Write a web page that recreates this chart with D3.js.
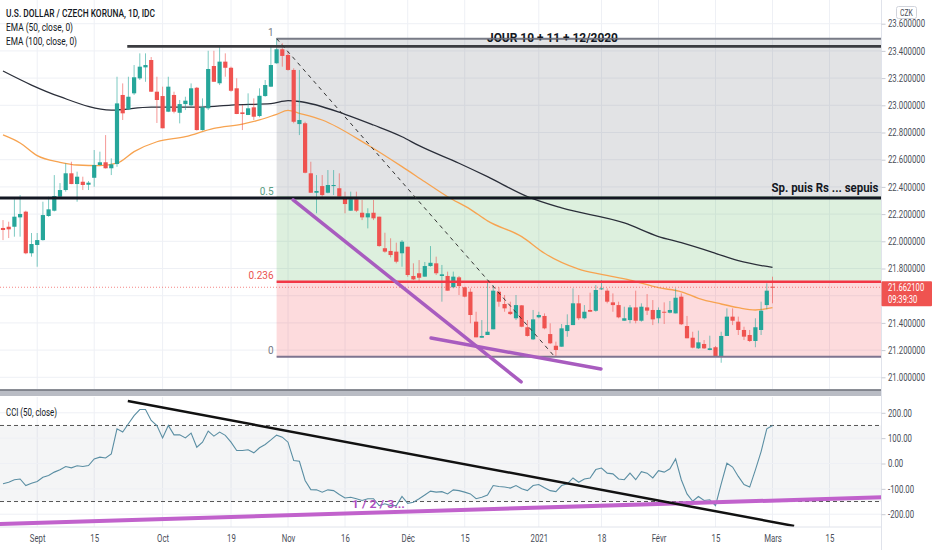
<!DOCTYPE html>
<html>
<head>
<meta charset="utf-8">
<script src="https://cdn.jsdelivr.net/npm/d3@7"></script>
<style>
  body { margin: 0; background: #fff; }
  svg { display: block; font-family: Roboto, "Liberation Sans", sans-serif; }
</style>
</head>
<body>
<div id="chart"></div>
<script>
// ---- data (daily bars from 2020-08-24, weekdays only) ----
const startDate = '2020-08-24';

const opens = [22.098,22.107,22.107,22.176,22.218,21.912,21.973,22.009,22.186,22.225,
  22.328,22.377,22.500,22.421,22.438,22.416,22.467,22.561,22.581,22.537,
  22.568,23.076,22.970,23.088,23.198,23.279,23.333,23.100,23.068,22.953,
  23.076,22.945,23.009,23.000,23.129,22.818,22.978,23.289,23.162,23.321,
  23.276,23.125,22.948,22.929,22.985,22.921,23.068,23.137,23.309,23.412,
  23.370,23.260,22.862,22.868,22.500,22.357,22.406,22.357,22.406,22.390,
  22.316,22.225,22.309,22.210,22.176,22.210,22.181,21.949,21.929,21.924,
  21.912,21.960,21.745,21.765,21.740,21.818,21.838,21.745,21.745,21.662,
  21.735,21.662,21.629,21.409,21.291,21.311,21.353,21.629,21.539,21.482,
  21.434,21.529,21.368,21.279,21.441,21.451,21.318,21.232,21.225,21.340,
  21.384,21.544,21.434,21.495,21.489,21.647,21.637,21.551,21.531,21.416,
  21.421,21.514,21.416,21.514,21.495,21.434,21.482,21.475,21.470,21.593,
  21.377,21.291,21.213,21.245,21.201,21.221,21.151,21.304,21.446,21.409,
  21.348,21.311,21.267,21.348,21.531,21.666];

const highs = [22.156,22.144,22.309,22.340,22.225,22.061,22.061,22.291,22.328,22.487,
  22.428,22.573,22.585,22.512,22.475,22.443,22.671,22.659,22.781,22.610,
  23.210,23.161,23.210,23.296,23.382,23.382,23.355,23.210,23.137,23.210,
  23.100,23.039,23.063,23.161,23.135,23.051,23.401,23.401,23.431,23.382,
  23.284,23.199,23.002,23.088,23.051,23.125,23.186,23.443,23.490,23.456,
  23.394,23.272,23.260,22.879,22.585,22.487,22.487,22.524,22.524,22.500,
  22.365,22.365,22.365,22.304,22.243,22.304,22.181,22.063,22.022,21.990,
  22.009,21.960,21.838,21.862,21.848,21.965,21.887,21.826,21.777,21.777,
  21.745,21.666,21.654,21.482,21.421,21.703,21.678,21.662,21.605,21.556,
  21.605,21.531,21.421,21.495,21.482,21.470,21.397,21.262,21.392,21.463,
  21.654,21.605,21.531,21.622,21.678,21.715,21.654,21.617,21.556,21.519,
  21.531,21.637,21.544,21.612,21.568,21.514,21.551,21.561,21.654,21.617,
  21.451,21.335,21.343,21.274,21.306,21.230,21.335,21.507,21.507,21.446,
  21.372,21.348,21.434,21.556,21.691,21.740];

const lows = [22.009,22.024,22.034,22.034,21.905,21.887,21.813,22.005,22.180,22.220,
  22.325,22.365,22.420,22.291,22.377,22.377,22.401,22.558,22.535,22.487,
  22.548,22.892,22.965,23.076,23.186,23.173,23.098,22.870,22.831,22.950,
  22.941,22.867,22.965,22.990,22.814,22.814,22.965,23.173,23.149,23.210,
  23.100,22.935,22.818,22.928,22.892,22.912,23.063,23.134,23.306,23.284,
  23.255,22.868,22.781,22.500,22.357,22.206,22.328,22.353,22.340,22.328,
  22.206,22.225,22.215,22.156,22.095,22.156,21.960,21.916,21.882,21.838,
  21.813,21.739,21.715,21.703,21.740,21.813,21.752,21.556,21.637,21.654,
  21.605,21.588,21.397,21.294,21.291,21.311,21.353,21.519,21.482,21.458,
  21.421,21.368,21.299,21.274,21.434,21.353,21.245,21.151,21.225,21.298,
  21.384,21.421,21.426,21.482,21.482,21.642,21.544,21.482,21.434,21.416,
  21.397,21.397,21.409,21.458,21.384,21.397,21.392,21.470,21.470,21.384,
  21.287,21.213,21.208,21.208,21.199,21.151,21.107,21.304,21.384,21.311,
  21.274,21.260,21.221,21.311,21.500,21.544];

const closes = [22.083,22.088,22.181,22.201,21.912,21.980,22.009,22.193,22.235,22.333,
  22.377,22.500,22.421,22.475,22.414,22.431,22.561,22.581,22.537,22.566,
  23.014,22.941,23.063,23.206,23.284,23.296,23.100,23.039,22.831,23.137,
  22.953,23.009,23.034,23.125,22.818,22.985,23.267,23.173,23.321,23.276,
  23.107,22.936,22.936,22.978,22.916,23.070,23.149,23.296,23.412,23.363,
  23.260,22.879,22.892,22.504,22.357,22.370,22.340,22.414,22.414,22.328,
  22.274,22.309,22.225,22.176,22.206,22.169,21.965,21.924,21.899,21.850,
  21.997,21.752,21.720,21.732,21.818,21.842,21.765,21.757,21.637,21.740,
  21.671,21.593,21.458,21.294,21.304,21.335,21.637,21.556,21.507,21.465,
  21.531,21.372,21.304,21.426,21.458,21.360,21.250,21.201,21.360,21.384,
  21.544,21.434,21.482,21.482,21.642,21.654,21.556,21.531,21.441,21.434,
  21.514,21.416,21.519,21.490,21.426,21.495,21.475,21.495,21.585,21.390,
  21.287,21.218,21.257,21.213,21.213,21.156,21.304,21.446,21.416,21.348,
  21.299,21.267,21.368,21.490,21.637,21.662];

const ema50Idx = [0,3,6,10,13,17,20,23,27,32,37,42,45,48,50,52,56,64,70,74,78,82,85,91,95,101,105,110,115,119,122,126,129,132,135];
const ema50Val = [22.782,22.723,22.63,22.581,22.561,22.556,22.574,22.659,22.732,22.769,22.831,22.862,22.892,22.934,22.962,22.941,22.892,22.708,22.549,22.438,22.328,22.235,22.150,22.034,21.912,21.796,21.757,21.715,21.659,21.629,21.581,21.539,21.512,21.495,21.512];

const ema100Idx = [0,5,10,19,26,35,40,47,50,52,60,65,70,73,80,85,92,98,109,115,119,125,129,135];
const ema100Val = [23.252,23.149,23.063,22.965,22.987,22.987,23.002,23.012,23.034,23.028,22.934,22.855,22.769,22.703,22.574,22.475,22.328,22.245,22.135,22.035,21.990,21.912,21.857,21.808];

const cciVals = [-80,-74,-64,-61,-87,-78,-71,-54,-47,-34,
  -25,-12,-17,-9,-12,-8,18,25,22,38,
  137,124,157,189,213,213,170,150,101,150,
  113,113,101,120,64,84,128,108,124,111,
  84,51,51,54,42,62,75,93,112,104,
  84,12,9,-67,-103,-104,-113,-104,-107,-122,
  -136,-133,-139,-146,-139,-139,-166,-159,-166,-166,
  -130,-157,-153,-139,-124,-109,-113,-111,-120,-104,
  -107,-113,-120,-139,-133,-124,-87,-91,-93,-97,
  -87,-100,-107,-87,-83,-96,-107,-111,-87,-80,
  -57,-74,-61,-57,-24,-18,-38,-41,-61,-64,
  -38,-64,-32,-38,-57,-28,-34,-21,18,-64,
  -120,-149,-130,-146,-143,-166,-80,1,-14,-51,
  -83,-93,-25,47,137,150];

const lastPrice = 21.6621;
const countdown = '09:39:30';

const priceTicks = [21.0,21.2,21.4,21.8,22.0,22.2,22.4,22.6,22.8,23.0,23.2,23.4,23.6];
const priceGrid = [21.0,21.2,21.4,21.6,21.8,22.0,22.2,22.4,22.6,22.8,23.0,23.2,23.4,23.6];
const cciTicks = [200,100,0,-100,-200];

const tickDates = ['2020-09-01','2020-09-15','2020-10-01','2020-10-19','2020-11-02','2020-11-16','2020-12-01',
  '2020-12-15','2021-01-01','2021-01-18','2021-02-01','2021-02-15','2021-03-01','2021-03-15'];
const tickLabels = ['Sept','15','Oct','19','Nov','16','Déc','15','2021','18','Févr','15','Mars','15'];

// drawings: [bar index, price] pairs
const fibHigh = [48, 23.49];
const fibLow = [96.8, 21.151];
const fibLevels = [1, 0.5, 0.236, 0];
const resistance = { from: 21.8, price: 23.434 };
const support = { from: -1, price: 22.318 };
const purpleLines = [[[50.9, 22.304], [90.9, 20.966]], [[75.1, 21.289], [104.9, 21.061]]];
const cciBlack = [[21.9, 246.5], [138.8, -246.5]];
const cciPurple = [[-0.6, -238.7], [154.1, -133.3]];

// ---- layout ----
const W = 881.5;
const mainBottom = 389;
const cciTop = 397, cciBottom = 527;

function weekdayIndex(dateStr) {
  const d0 = new Date(startDate + 'T00:00:00Z');
  const d1 = new Date(dateStr + 'T00:00:00Z');
  let n = 0;
  for (let d = new Date(d0); d < d1; d.setUTCDate(d.getUTCDate() + 1)) {
    const wd = d.getUTCDay();
    if (wd !== 0 && wd !== 6) n++;
  }
  return n;
}
const tickIdx = tickDates.map(weekdayIndex);

const x = d3.scaleLinear().domain([0, 135]).range([3, 772.5]);
const y = d3.scaleLinear().domain([21, 23.6]).range([377.3, 23.7]);
const yC = d3.scaleLinear().domain([-200, 200]).range([514.2, 412.8]);

const svg = d3.select('#chart').append('svg').attr('width', 932).attr('height', 550);
svg.append('rect').attr('width', 932).attr('height', 550).attr('fill', '#fff');

const defs = svg.append('defs');
defs.append('clipPath').attr('id', 'clipMain').append('rect')
  .attr('x', 0).attr('y', 0).attr('width', W).attr('height', mainBottom);
defs.append('clipPath').attr('id', 'clipCci').append('rect')
  .attr('x', 0).attr('y', cciTop).attr('width', W).attr('height', cciBottom - cciTop);

function fitWidth(sel, w) {
  sel.attr('textLength', w).attr('lengthAdjust', 'spacingAndGlyphs');
}
// narrow the axis labels with a horizontal scale so their boxes stay inside the picture
function condense(sel, k) {
  sel.each(function () {
    const t = d3.select(this);
    const x0 = +t.attr('x') || 0;
    t.attr('x', x0 / k).attr('transform', `scale(${k},1)`);
  });
}

// ---- grid ----
const grid = svg.append('g');
grid.selectAll('.vg1').data(tickIdx).join('line')
  .attr('x1', d => x(d)).attr('x2', d => x(d)).attr('y1', 0).attr('y2', mainBottom)
  .attr('stroke', '#eef0f5');
grid.selectAll('.vg2').data(tickIdx).join('line')
  .attr('x1', d => x(d)).attr('x2', d => x(d)).attr('y1', cciTop).attr('y2', cciBottom)
  .attr('stroke', '#eef0f5');
grid.selectAll('.hg').data(priceGrid).join('line')
  .attr('x1', 0).attr('x2', W).attr('y1', d => y(d)).attr('y2', d => y(d))
  .attr('stroke', '#eef0f5');

// ---- main pane ----
const main = svg.append('g').attr('clip-path', 'url(#clipMain)');

const fibPrice = lv => fibLow[1] + lv * (fibHigh[1] - fibLow[1]);
const fibX = x(fibHigh[0]);
const fibFills = [
  [1, 0.5, 'rgba(120,123,134,0.21)'],
  [0.5, 0.236, 'rgba(76,175,80,0.19)'],
  [0.236, 0, 'rgba(242,54,69,0.18)']
];
main.selectAll('.fibfill').data(fibFills).join('rect')
  .attr('x', fibX).attr('width', W - fibX)
  .attr('y', d => y(fibPrice(d[0])))
  .attr('height', d => y(fibPrice(d[1])) - y(fibPrice(d[0])))
  .attr('fill', d => d[2]);

// EMAs
const line = d3.line().x(d => x(d[0])).y(d => y(d[1])).curve(d3.curveMonotoneX);
main.append('path').datum(ema100Idx.map((d, i) => [d, ema100Val[i]]))
  .attr('d', line).attr('fill', 'none').attr('stroke', '#2a2e39').attr('stroke-width', 1.3);
main.append('path').datum(ema50Idx.map((d, i) => [d, ema50Val[i]]))
  .attr('d', line).attr('fill', 'none').attr('stroke', '#f7a350').attr('stroke-width', 1.3);

// candles
const up = '#26a69a', down = '#ef5350';
const bars = closes.map((c, i) => ({ i, o: opens[i], h: highs[i], l: lows[i], c }));
const cg = main.append('g');
cg.selectAll('.wick').data(bars).join('line')
  .attr('x1', d => x(d.i)).attr('x2', d => x(d.i))
  .attr('y1', d => y(d.h)).attr('y2', d => y(d.l))
  .attr('stroke', d => d.c >= d.o ? up : down).attr('stroke-opacity', 0.6).attr('stroke-width', 1);
cg.selectAll('.body').data(bars).join('rect')
  .attr('x', d => x(d.i) - 2.1).attr('width', 4.2)
  .attr('y', d => y(Math.max(d.o, d.c)))
  .attr('height', d => Math.max(1, Math.abs(y(d.o) - y(d.c))))
  .attr('fill', d => d.c >= d.o ? up : down);

// fib level lines
const fibColors = { 1: '#787b86', 0.5: '#4caf50', 0.236: '#f23645', 0: '#7e7590' };
main.selectAll('.fibline').data(fibLevels).join('line')
  .attr('x1', fibX).attr('x2', W)
  .attr('y1', d => y(fibPrice(d))).attr('y2', d => y(fibPrice(d)))
  .attr('stroke', d => fibColors[d]).attr('stroke-width', d => d === 0.236 ? 2.6 : 2);

// horizontal drawings
main.append('line').attr('x1', x(resistance.from)).attr('x2', W)
  .attr('y1', y(resistance.price)).attr('y2', y(resistance.price))
  .attr('stroke', '#3b3c40').attr('stroke-width', 2.8);
main.append('line').attr('x1', x(support.from)).attr('x2', W)
  .attr('y1', y(support.price)).attr('y2', y(support.price))
  .attr('stroke', '#131722').attr('stroke-width', 3);

// current price dotted line
main.append('line').attr('x1', 0).attr('x2', W)
  .attr('y1', y(lastPrice)).attr('y2', y(lastPrice))
  .attr('stroke', '#ef5350').attr('stroke-opacity', 0.7).attr('stroke-dasharray', '1,2');

// trend lines
main.selectAll('.pl').data(purpleLines).join('line')
  .attr('x1', d => x(d[0][0])).attr('y1', d => y(d[0][1]))
  .attr('x2', d => x(d[1][0])).attr('y2', d => y(d[1][1]))
  .attr('stroke', '#a85cbf').attr('stroke-width', 3.5).attr('stroke-linecap', 'round');
main.append('line')
  .attr('x1', x(fibHigh[0])).attr('y1', y(fibHigh[1]))
  .attr('x2', x(fibLow[0])).attr('y2', y(fibLow[1]))
  .attr('stroke', '#333').attr('stroke-width', 1).attr('stroke-dasharray', '4,4');

// fib labels
const fibLabels = { 1: '1', 0.5: '0.5', 0.236: '0.236', 0: '0' };
const fibLabelColors = { 1: '#787b86', 0.5: '#5b9e83', 0.236: '#e9534f', 0: '#787b86' };
svg.append('g').selectAll('text').data(fibLevels).join('text')
  .attr('x', fibX - 3).attr('y', d => y(fibPrice(d)) - 3)
  .attr('text-anchor', 'end').attr('font-size', 10)
  .attr('fill', d => fibLabelColors[d]).text(d => fibLabels[d]);

// annotation texts
const t1 = svg.append('text').attr('x', x(96.4)).attr('y', 41.5)
  .attr('text-anchor', 'middle').attr('font-size', 12).attr('font-weight', 700)
  .attr('fill', '#131722').text('JOUR 10 + 11 + 12/2020');
fitWidth(t1, 131);
// the fib 1 line runs over the text
svg.append('line').attr('x1', 487).attr('x2', 619)
  .attr('y1', y(fibPrice(1))).attr('y2', y(fibPrice(1)))
  .attr('stroke', '#787b86').attr('stroke-width', 1.5).attr('stroke-opacity', 0.8);
const t2 = svg.append('text').attr('x', 878.5).attr('y', 192)
  .attr('text-anchor', 'end').attr('font-size', 12).attr('font-weight', 700)
  .attr('fill', '#131722').text('Sp. puis Rs ... sepuis');
fitWidth(t2, 107);

// legend
const lg = svg.append('g').attr('fill', '#131722');
fitWidth(lg.append('text').attr('x', 6).attr('y', 17.3).attr('font-size', 10.5).attr('font-weight', 500)
  .text('U.S. DOLLAR / CZECH KORUNA, 1D, IDC'), 149);
fitWidth(lg.append('text').attr('x', 6).attr('y', 31.3).attr('font-size', 10.5)
  .text('EMA (50, close, 0)'), 67);
fitWidth(lg.append('text').attr('x', 6).attr('y', 45.3).attr('font-size', 10.5)
  .text('EMA (100, close, 0)'), 71);

// pane separator
svg.append('rect').attr('x', 0).attr('y', mainBottom + 0.5).attr('width', W).attr('height', 6.5)
  .attr('fill', '#b9bcc4');
svg.append('line').attr('x1', 0).attr('x2', W).attr('y1', mainBottom + 1).attr('y2', mainBottom + 1)
  .attr('stroke', '#6f727b').attr('stroke-width', 1.5);

// ---- CCI pane ----
const cci = svg.append('g').attr('clip-path', 'url(#clipCci)');
cci.append('rect').attr('x', 0).attr('width', W)
  .attr('y', yC(150)).attr('height', yC(-150) - yC(150)).attr('fill', 'rgba(120,123,134,0.08)');
cci.selectAll('.hgc').data(cciTicks).join('line')
  .attr('x1', 0).attr('x2', W).attr('y1', d => yC(d)).attr('y2', d => yC(d))
  .attr('stroke', '#eef0f5');
cci.selectAll('.band').data([150, -150]).join('line')
  .attr('x1', 0).attr('x2', W).attr('y1', d => yC(d)).attr('y2', d => yC(d))
  .attr('stroke', '#555').attr('stroke-dasharray', '4,3');
cci.append('path').datum(cciVals)
  .attr('d', d3.line().x((d, i) => x(i)).y(d => yC(d)))
  .attr('fill', 'none').attr('stroke', '#5a8ea3').attr('stroke-width', 1.1);
cci.append('line')
  .attr('x1', x(cciPurple[0][0])).attr('y1', yC(cciPurple[0][1]))
  .attr('x2', x(cciPurple[1][0])).attr('y2', yC(cciPurple[1][1]))
  .attr('stroke', '#c162cc').attr('stroke-width', 4);
cci.append('line')
  .attr('x1', x(cciBlack[0][0])).attr('y1', yC(cciBlack[0][1]))
  .attr('x2', x(cciBlack[1][0])).attr('y2', yC(cciBlack[1][1]))
  .attr('stroke', '#111').attr('stroke-width', 2.5);
fitWidth(svg.append('text').attr('x', x(61.2)).attr('y', 507.5).attr('font-size', 11).attr('font-weight', 700)
  .attr('fill', '#b04fc0').text('1 / 2 / 3...'), 53);
fitWidth(svg.append('text').attr('x', 6).attr('y', 415.5).attr('font-size', 10.5)
  .attr('fill', '#131722').text('CCI (50, close)'), 51);

// ---- axes ----
svg.append('line').attr('x1', W).attr('x2', W).attr('y1', 0).attr('y2', 550).attr('stroke', '#e0e3eb');
svg.append('line').attr('x1', 0).attr('x2', W).attr('y1', cciBottom).attr('y2', cciBottom).attr('stroke', '#e0e3eb');

const pAxis = svg.append('g').attr('transform', `translate(${W},0)`)
  .call(d3.axisRight(y).tickValues(priceTicks).tickFormat(d3.format('.6f')).tickSize(4).tickPadding(2.5));
const cAxis = svg.append('g').attr('transform', `translate(${W},0)`)
  .call(d3.axisRight(yC).tickValues(cciTicks).tickFormat(d => d.toFixed(2)).tickSize(4).tickPadding(2.5));
const tAxis = svg.append('g').attr('transform', `translate(0,${cciBottom})`)
  .call(d3.axisBottom(x).tickValues(tickIdx).tickFormat((d, i) => tickLabels[i]).tickSize(0).tickPadding(8));
[pAxis, cAxis, tAxis].forEach(g => {
  g.select('.domain').remove();
  g.selectAll('.tick line').attr('stroke', '#c9ccd4');
  g.selectAll('text').attr('fill', '#4a4e59').attr('font-size', 10).attr('font-family', 'Roboto, sans-serif');
  condense(g.selectAll('text'), 0.78);
});

// last price label
const lp = svg.append('g').attr('transform', `translate(${W},${y(lastPrice) - 6})`);
lp.append('rect').attr('width', 932 - W).attr('height', 25).attr('rx', 1).attr('fill', '#ef5350');
const lpTexts = [d3.format('.6f')(lastPrice), countdown];
lp.selectAll('text').data(lpTexts).join('text')
  .attr('x', 6.5).attr('y', (d, i) => i === 0 ? 10 : 21.5)
  .attr('font-size', 10).attr('fill', '#fff').text(d => d);
condense(lp.selectAll('text'), 0.76);

// currency badge
svg.append('rect').attr('x', 896.5).attr('y', 6.5).attr('width', 20).attr('height', 12).attr('rx', 2)
  .attr('fill', '#fff').attr('stroke', '#d1d4dc');
const cz = svg.append('g').attr('transform', 'translate(906.5,15.8)');
cz.append('text').attr('text-anchor', 'middle').attr('font-size', 8.5).attr('fill', '#4a4e59').text('CZK');
condense(cz.selectAll('text'), 0.8);
</script>
</body>
</html>
